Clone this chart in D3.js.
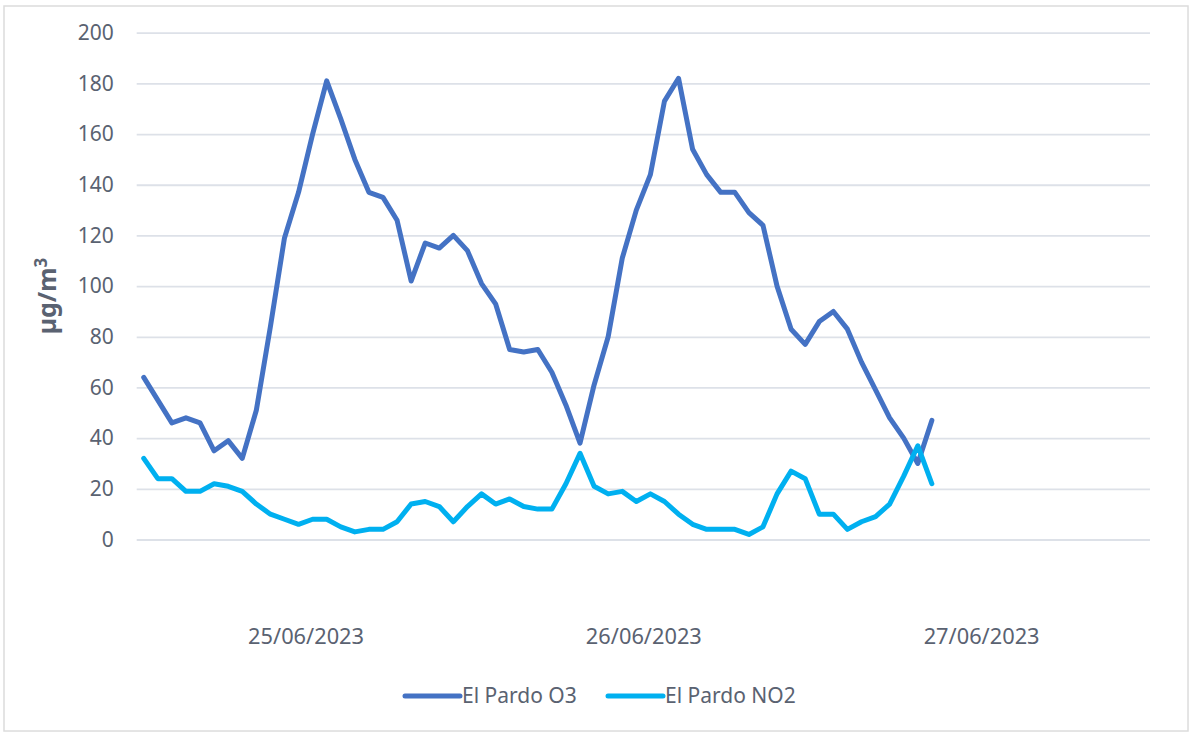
<!DOCTYPE html>
<html>
<head>
<meta charset="utf-8">
<script src="https://cdn.jsdelivr.net/npm/d3@7"></script>
<style>
  body { margin: 0; background: #fff; }
  text { font-family: "Noto Sans", "Open Sans", sans-serif; fill: #5a6271; }
</style>
</head>
<body>
<div id="chart"></div>
<script>
// hourly readings, El Pardo station, from 25/06/2023 00h
const o3 = [64, 55, 46, 48, 46, 35, 39, 32, 51, 84, 119, 137, 160, 181, 166, 150, 137, 135, 126, 102,
  117, 115, 120, 114, 101, 93, 75, 74, 75, 66, 53, 38, 61, 80, 111, 130, 144, 173, 182, 154,
  144, 137, 137, 129, 124, 100, 83, 77, 86, 90, 83, 70, 59, 48, 40, 30, 47];
const no2 = [32, 24, 24, 19, 19, 22, 21, 19, 14, 10, 8, 6, 8, 8, 5, 3, 4, 4, 7, 14,
  15, 13, 7, 13, 18, 14, 16, 13, 12, 12, 22, 34, 21, 18, 19, 15, 18, 15, 10, 6,
  4, 4, 4, 2, 5, 18, 27, 24, 10, 10, 4, 7, 9, 14, 25, 37, 22];
const yTicks = [0, 20, 40, 60, 80, 100, 120, 140, 160, 180, 200];
const dayLabels = ['25/06/2023', '26/06/2023', '27/06/2023'];
const seriesNames = ['El Pardo O3', 'El Pardo NO2'];
const colors = ['#4472c4', '#00b0f0'];

const parseDay = d3.timeParse('%d/%m/%Y');
const fmtDay = d3.timeFormat('%d/%m/%Y');
const t0 = parseDay(dayLabels[0]);
// each hourly average is plotted at the middle of its hour
const times = o3.map((d, i) => d3.timeMinute.offset(d3.timeHour.offset(t0, i), 30));

const width = 1190, height = 733;
const plot = { left: 136.7, right: 1150, top: 32.7, bottom: 539.5 };

const svg = d3.select('#chart').append('svg')
  .attr('width', width).attr('height', height);

svg.append('rect')
  .attr('x', 4).attr('y', 6).attr('width', 1184).attr('height', 725)
  .attr('fill', '#fff').attr('stroke', '#dcdcdc').attr('stroke-width', 1.5);

const x = d3.scaleTime()
  .domain([t0, d3.timeDay.offset(t0, 3)])
  .range([plot.left, plot.right]);
const y = d3.scaleLinear().domain([0, 200]).range([plot.bottom, plot.top]);

// gridlines
svg.append('g')
  .attr('transform', `translate(${plot.left},0)`)
  .call(d3.axisLeft(y).tickValues(yTicks).tickSize(-(plot.right - plot.left)).tickFormat(''))
  .call(g => g.select('.domain').remove())
  .call(g => g.selectAll('line').attr('stroke', '#dde1e8').attr('stroke-width', 1.8));

// y labels
svg.append('g')
  .attr('transform', `translate(${plot.left},0)`)
  .call(d3.axisLeft(y).tickValues(yTicks).tickSize(0).tickPadding(23))
  .call(g => g.select('.domain').remove())
  .call(g => g.selectAll('text').attr('font-size', 21).attr('font-family', null));

// x labels at midday
const noons = dayLabels.map(s => d3.timeHour.offset(parseDay(s), 12));
svg.append('g')
  .attr('transform', `translate(0,${plot.bottom})`)
  .call(d3.axisBottom(x).tickValues(noons).tickFormat(fmtDay).tickSize(0).tickPadding(89))
  .call(g => g.select('.domain').remove())
  .call(g => g.selectAll('text').attr('font-size', 21.8).attr('font-family', null));

svg.selectAll('.tick text').attr('fill', '#5a6271');

// y title
const title = svg.append('text')
  .attr('transform', 'translate(56,296) rotate(-90)')
  .attr('text-anchor', 'middle')
  .attr('font-size', 25)
  .attr('font-weight', 'bold')
  .attr('fill', '#4a5568');
title.append('tspan').text('µg/m');
title.append('tspan').text('3').attr('font-size', 17).attr('dy', -9);

const line = d3.line()
  .x((d, i) => x(times[i]))
  .y(d => y(d));

[o3, no2].forEach((s, k) => {
  svg.append('path')
    .datum(s)
    .attr('d', line)
    .attr('fill', 'none')
    .attr('stroke', colors[k])
    .attr('stroke-width', 5)
    .attr('stroke-linejoin', 'round')
    .attr('stroke-linecap', 'round');
});

// legend
const legendX = [405, 608];
const legend = svg.append('g').attr('transform', 'translate(0,696)');
seriesNames.forEach((name, k) => {
  legend.append('line')
    .attr('x1', legendX[k]).attr('x2', legendX[k] + 55)
    .attr('y1', 0).attr('y2', 0)
    .attr('stroke', colors[k]).attr('stroke-width', 5).attr('stroke-linecap', 'round');
  legend.append('text')
    .attr('x', legendX[k] + 57).attr('y', 0)
    .attr('dy', '0.35em')
    .attr('font-size', 21)
    .text(name);
});
</script>
</body>
</html>
